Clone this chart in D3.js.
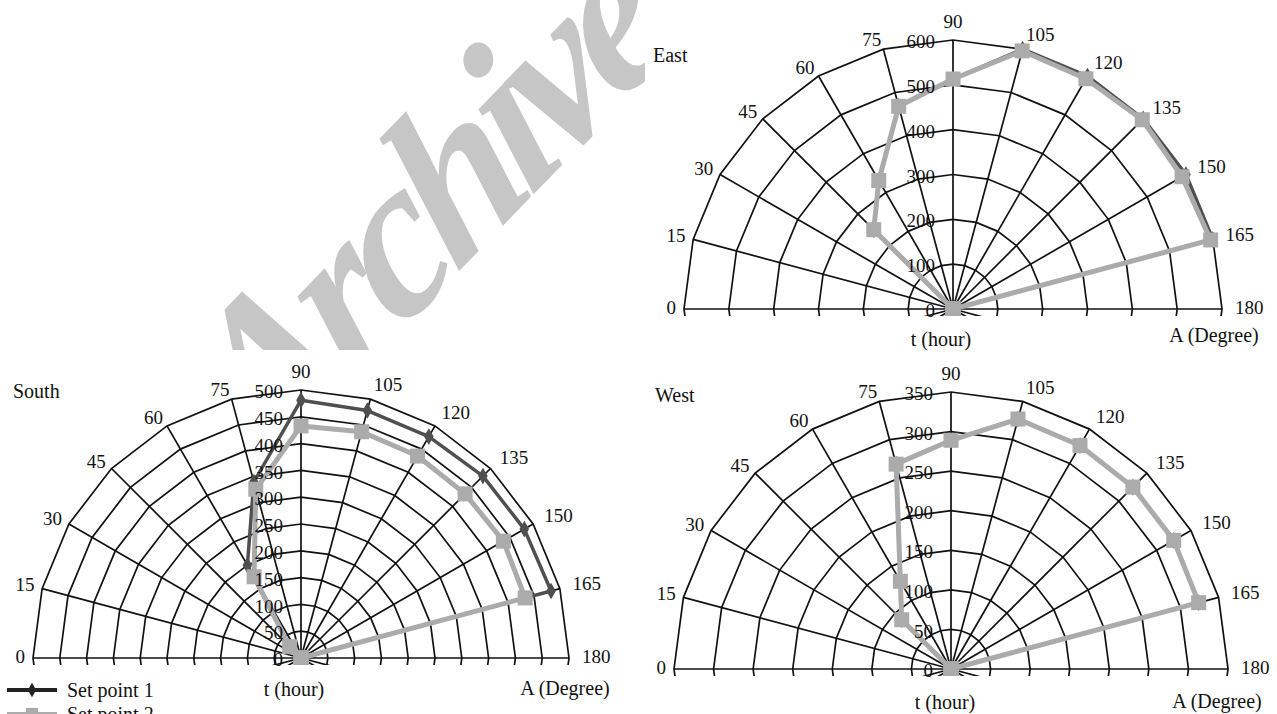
<!DOCTYPE html>
<html>
<head>
<meta charset="utf-8">
<script src="https://cdn.jsdelivr.net/npm/d3@7"></script>
<style>
  html, body { margin: 0; padding: 0; background: #fff; }
  svg { display: block; }
  text { font-family: "Liberation Serif", "Times New Roman", serif; fill: #111; }
</style>
</head>
<body>
<script>
// ---------------- data ----------------
const angleLabels = [0, 15, 30, 45, 60, 75, 90, 105, 120, 135, 150, 165, 180];   // A (Degree)
const spokeAngles = d3.range(0, 360, 15);

const eastTicks  = [0, 100, 200, 300, 400, 500, 600];
const southTicks = [0, 50, 100, 150, 200, 250, 300, 350, 400, 450, 500];
const westTicks  = [0, 50, 100, 150, 200, 250, 300, 350];

// values at angleLabels
const eastSet1  = [0, 0, 0, 250, 331, 468, 513, 600, 600, 600, 600, 600, 0];
const eastSet2  = [0, 0, 0, 250, 331, 468, 513, 596, 593, 597, 590, 595, 0];
const southSet1 = [0, 0, 0, 30, 200, 340, 481, 478, 477, 480, 481, 483, 0];
const southSet2 = [0, 0, 0, 30, 175, 326, 433, 437, 435, 433, 436, 433, 0];
const westSet1  = [0, 0, 0, 88, 128, 268, 289, 327, 326, 325, 325, 324, 0];
const westSet2  = [0, 0, 0, 88, 128, 268, 289, 327, 326, 325, 325, 324, 0];

const seriesNames = ["Set point 1", "Set point 2"];
const radialTitle = "t (hour)";
const angleTitle = "A (Degree)";

// ---------------- layout ----------------
const W = 1277, H = 714;
const C1 = "#4f4f4f", C2 = "#ababab", GRID = "#111";

const svg = d3.select("body").append("svg").attr("width", W).attr("height", H);
svg.append("rect").attr("width", W).attr("height", H).attr("fill", "#fff");

const defs = svg.append("defs");

// watermark
defs.append("clipPath").attr("id", "wmclip")
  .append("rect").attr("x", 0).attr("y", 0).attr("width", 645).attr("height", 350);
svg.append("g").attr("clip-path", "url(#wmclip)")
  .append("text")
  .attr("transform", "translate(468,262) rotate(-46) skewX(-9)")
  .attr("text-anchor", "middle")
  .style("font-size", "215px").style("font-style", "italic").style("font-weight", "bold")
  .style("letter-spacing", "-14px")
  .style("fill", "#c6c6c6")
  .text("Archive");

const ang = a => (a - 90) * Math.PI / 180;

function drawPolar(cfg) {
  const { id, cx, cy, R, ticks, set1, set2, title, titlePos, tPos, aPos } = cfg;
  const r = d3.scaleLinear().domain([0, d3.max(ticks)]).range([0, R]);
  const g = svg.append("g").attr("transform", `translate(${cx},${cy})`);

  defs.append("clipPath").attr("id", id)
    .append("rect").attr("x", -R - 10).attr("y", -R - 40).attr("width", 2 * R + 20).attr("height", R + 47);
  const pg = g.append("g").attr("clip-path", `url(#${id})`);

  // rings (polygonal)
  const ring = d3.lineRadial().curve(d3.curveLinearClosed)
    .angle(a => ang(a));
  ticks.filter(v => v > 0).forEach(v => {
    pg.append("path")
      .attr("d", ring.radius(r(v))(spokeAngles))
      .attr("fill", "none").attr("stroke", GRID).attr("stroke-width", 1.7);
  });
  // spokes
  pg.selectAll("line.spoke").data(spokeAngles).join("line")
    .attr("x1", 0).attr("y1", 0)
    .attr("x2", a => R * Math.sin(ang(a)))
    .attr("y2", a => -R * Math.cos(ang(a)))
    .attr("stroke", GRID).attr("stroke-width", 1.7);

  // radial tick labels
  g.selectAll("text.rt").data(ticks).join("text")
    .attr("x", -18).attr("y", v => -r(v) + 1.5).attr("dy", "0.35em")
    .attr("text-anchor", "end").style("font-size", "19px")
    .text(v => v);

  // angle labels
  angleLabels.forEach(a => {
    const ux = Math.sin(ang(a)), uy = -Math.cos(ang(a));
    const t = g.append("text").style("font-size", "19px").text(a);
    if (Math.abs(ux) < 0.05) {
      t.attr("x", 0).attr("y", -(R + 12)).attr("text-anchor", "middle");
    } else if (ux < 0) {
      t.attr("x", (R + 8) * ux).attr("y", (R + 8) * uy - 2).attr("dy", "0.35em").attr("text-anchor", "end");
    } else {
      t.attr("x", (R + 13) * ux).attr("y", (R + 13) * uy - 2).attr("dy", "0.35em").attr("text-anchor", "start");
    }
  });

  // data
  const pts = vals => angleLabels.map((a, i) => ({ a, v: vals[i] }));
  const line = d3.lineRadial().angle(d => ang(d.a)).radius(d => r(d.v));
  const px = d => r(d.v) * Math.sin(ang(d.a));
  const py = d => -r(d.v) * Math.cos(ang(d.a));

  const d1 = pts(set1), d2 = pts(set2);
  pg.append("path").attr("d", line(d1)).attr("fill", "none")
    .attr("stroke", C1).attr("stroke-width", 3.5).attr("stroke-linejoin", "round");
  pg.selectAll("path.m1").data(d1).join("path")
    .attr("d", d3.symbol(d3.symbolDiamond, 80))
    .attr("transform", d => `translate(${px(d)},${py(d)})`)
    .attr("fill", C1);
  pg.append("path").attr("d", line(d2)).attr("fill", "none")
    .attr("stroke", C2).attr("stroke-width", 5).attr("stroke-linejoin", "round");
  pg.selectAll("path.m2").data(d2).join("path")
    .attr("d", d3.symbol(d3.symbolSquare, 225))
    .attr("transform", d => `translate(${px(d)},${py(d)})`)
    .attr("fill", C2);

  // titles
  svg.append("text").attr("x", titlePos[0]).attr("y", titlePos[1]).style("font-size", "20px").text(title);
  svg.append("text").attr("x", tPos[0]).attr("y", tPos[1]).attr("text-anchor", "middle").style("font-size", "20px").text(radialTitle);
  svg.append("text").attr("x", aPos[0]).attr("y", aPos[1]).attr("text-anchor", "middle").style("font-size", "20px").text(angleTitle);
}

drawPolar({ id: "cE", cx: 953, cy: 309, R: 269, ticks: eastTicks, set1: eastSet1, set2: eastSet2,
  title: "East", titlePos: [653, 62], tPos: [941, 346], aPos: [1214, 342] });
drawPolar({ id: "cS", cx: 301, cy: 658, R: 268, ticks: southTicks, set1: southSet1, set2: southSet2,
  title: "South", titlePos: [13, 398], tPos: [294, 696], aPos: [565, 695] });
drawPolar({ id: "cW", cx: 951, cy: 669, R: 277, ticks: westTicks, set1: westSet1, set2: westSet2,
  title: "West", titlePos: [655, 402], tPos: [945, 709], aPos: [1217, 708] });

// legend
const leg = svg.append("g");
[[C1, 690, "diamond"], [C2, 714, "square"]].forEach(([c, y, s], i) => {
  leg.append("line").attr("x1", 7).attr("x2", 57).attr("y1", y).attr("y2", y)
    .attr("stroke", i === 0 ? "#222" : c).attr("stroke-width", 4);
  leg.append("path")
    .attr("d", d3.symbol(s === "diamond" ? d3.symbolDiamond : d3.symbolSquare, s === "diamond" ? 60 : 150))
    .attr("transform", `translate(32,${y})`).attr("fill", i === 0 ? "#222" : c);
  leg.append("text").attr("x", 67).attr("y", y + 7).style("font-size", "20px").text(seriesNames[i]);
});
</script>
</body>
</html>
